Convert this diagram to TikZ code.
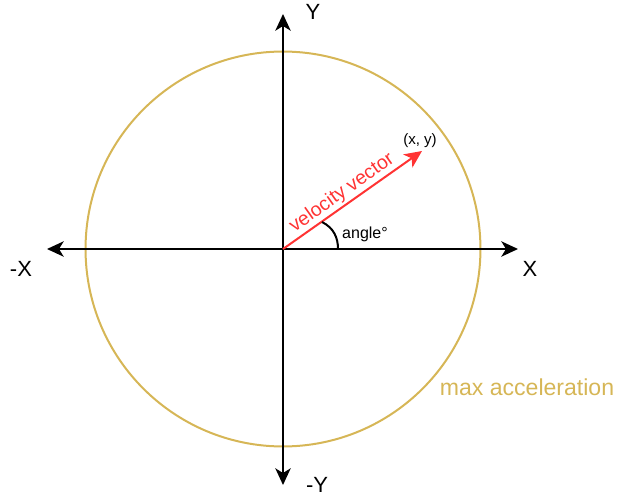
\documentclass[tikz,border=0pt]{standalone}
\usepackage{fontspec}
\setmainfont{Liberation Sans}
\usetikzlibrary{arrows.meta}
\definecolor{gold}{HTML}{D6B656}
\definecolor{vred}{HTML}{FF3333}
\begin{document}
\begin{tikzpicture}[x=0.75pt,y=-0.75pt,
  axis/.style={line width=1.5pt, -{Stealth[length=12.5pt,width=11.5pt,inset=3.5pt]}},
  vec/.style={vred, line width=1.5pt, -{Stealth[length=13pt,width=12pt,inset=3.5pt]}},
  axlabel/.style={font=\fontsize{16.5}{18}\selectfont, inner sep=0pt},
  small/.style={font=\fontsize{12}{14}\selectfont, inner sep=0pt}]
\useasboundingbox (0,0) rectangle (618,496);
\coordinate (O) at (283,249);
\coordinate (xp) at (518,249);
\coordinate (xn) at (47,249);
\coordinate (yp) at (283,14);
\coordinate (yn) at (283,485);
\coordinate (tip) at (422,151);
\coordinate (a1) at (322,222);
\coordinate (a2) at (338,249);
% circle
\draw[gold, line width=1.5pt] (O) circle[radius=148.1pt];
% axes
\draw[axis] (O) -- (xp);
\draw[axis] (O) -- (xn);
\draw[axis] (O) -- (yp);
\draw[axis] (O) -- (yn);
% velocity vector
\draw[vec] (O) -- (tip);
% angle arc
\draw[line width=1.5pt] (a1) .. controls (334,228) and (338,238) .. (a2);
% labels
\node[axlabel] (ly) at (313,12) {Y};
\node[axlabel] (lx) at (530,269) {X};
\node[axlabel] (lxn) at (21,269) {-X};
\node[axlabel] (lyn) at (317,485) {-Y};
\node[axlabel, text=gold, font=\fontsize{17.3}{19}\selectfont] (lmax) at (527,387) {max acceleration};
\node[small, text=vred, font=\fontsize{14.6}{16}\selectfont, rotate=35.3] (lvel) at (342,193) {velocity vector};
\node[small] (lang) at (365,234) {angle°};
\node[small, font=\fontsize{11.3}{12}\selectfont] (lxy) at (420,141) {(x, y)};
\end{tikzpicture}
\end{document}
